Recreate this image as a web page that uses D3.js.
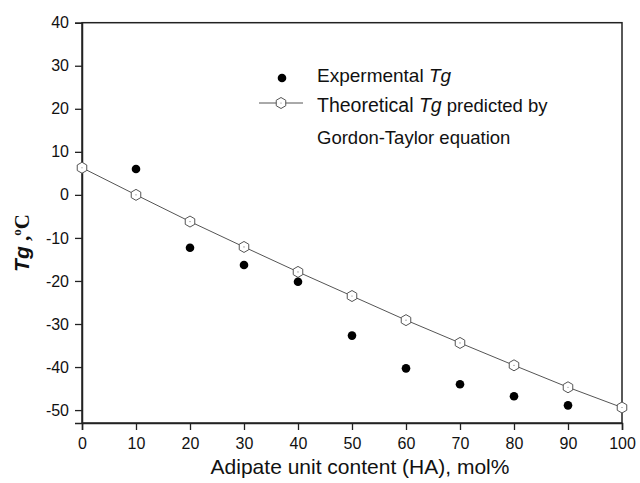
<!DOCTYPE html>
<html><head><meta charset="utf-8">
<script src="https://cdn.jsdelivr.net/npm/d3@7"></script>
<style>body{margin:0;background:#fff}svg{display:block}</style>
</head><body>
<script>
const haContent = [0,10,20,30,40,50,60,70,80,90,100];
const theoreticalTg = [6.3,0,-6.2,-12.1,-17.9,-23.5,-29.1,-34.4,-39.6,-44.7,-49.4];
const expContent = [10,20,30,40,50,60,70,80,90];
const experimentalTg = [6.0,-12.3,-16.3,-20.2,-32.7,-40.3,-44.0,-46.8,-48.9];
const xTicks = [0,10,20,30,40,50,60,70,80,90,100];
const yTicks = [-50,-40,-30,-20,-10,0,10,20,30,40];

const W=640,H=483;
const m={l:82,r:18,t:22.7,b:60};
const svg=d3.select("body").append("svg").attr("width",W).attr("height",H);
const x=d3.scaleLinear().domain([0,100]).range([m.l,W-m.r]);
const y=d3.scaleLinear().domain([-53,40]).range([H-m.b,m.t]);
const font="Liberation Sans, Arial, sans-serif";

// frame
svg.append("rect").attr("x",m.l).attr("y",m.t).attr("width",W-m.r-m.l).attr("height",H-m.b-m.t)
  .attr("fill","none").attr("stroke","#222").attr("stroke-width",1.5);

const xa=svg.append("g").attr("transform",`translate(0,${H-m.b})`)
  .call(d3.axisBottom(x).tickValues(xTicks).tickFormat(d=>String(d)).tickSize(7).tickPadding(8));
const ya=svg.append("g").attr("transform",`translate(${m.l},0)`)
  .call(d3.axisLeft(y).tickValues(yTicks).tickFormat(d=>String(d)).tickSize(7).tickPadding(6));
[xa,ya].forEach(a=>{
  a.select(".domain").attr("stroke","#222").attr("stroke-width",1.5);
  a.selectAll(".tick line").attr("stroke","#222").attr("stroke-width",1.3);
  a.selectAll("text").attr("font-family",font).attr("font-size",16).attr("fill","#111");
});

// theoretical line
svg.append("path").datum(haContent.map((d,i)=>[d,theoreticalTg[i]]))
  .attr("fill","none").attr("stroke","#555").attr("stroke-width",1)
  .attr("d",d3.line().x(d=>x(d[0])).y(d=>y(d[1])));

function hexPath(r){
  const pts=d3.range(6).map(i=>{const a=Math.PI/6+i*Math.PI/3;return [r*Math.cos(a),r*Math.sin(a)];});
  return "M"+pts.map(p=>p.join(",")).join("L")+"Z";
}
function hexMarker(g,cx,cy){
  g.append("path").attr("d",hexPath(5.5)).attr("transform",`translate(${cx},${cy})`)
    .attr("fill","#fff").attr("stroke","#555").attr("stroke-width",1);
  g.append("circle").attr("cx",cx).attr("cy",cy).attr("r",0.6).attr("fill","#777");
}
const hg=svg.append("g");
haContent.forEach((d,i)=>hexMarker(hg,x(d),y(theoreticalTg[i])));

svg.append("g").selectAll("circle").data(expContent).join("circle")
  .attr("cx",d=>x(d)).attr("cy",(d,i)=>y(experimentalTg[i])).attr("r",4.3).attr("fill","#000");

// legend
const lg=svg.append("g");
lg.append("circle").attr("cx",282).attr("cy",78).attr("r",4.3).attr("fill","#000");
const t1=lg.append("text").attr("x",317).attr("y",82).attr("font-family",font).attr("font-size",19).attr("fill","#111");
t1.append("tspan").text("Expermental ");
t1.append("tspan").attr("font-style","italic").text("Tg");
lg.append("line").attr("x1",259).attr("x2",303).attr("y1",103).attr("y2",103).attr("stroke","#555").attr("stroke-width",1);
hexMarker(lg,281,103);
const t2=lg.append("text").attr("x",317).attr("y",112).attr("font-family",font).attr("font-size",19.5).attr("fill","#111");
t2.append("tspan").text("Theoretical ");
t2.append("tspan").attr("font-style","italic").text("Tg");
t2.append("tspan").attr("font-size",18.5).text(" predicted by");
lg.append("text").attr("x",317).attr("y",144).attr("font-family",font).attr("font-size",18.5).attr("fill","#111")
  .text("Gordon-Taylor equation");

// axis titles
svg.append("text").attr("x",360).attr("y",474).attr("text-anchor","middle")
  .attr("font-family",font).attr("font-size",21).attr("fill","#111").text("Adipate unit content (HA), mol%");
const yt=svg.append("text").attr("transform",`translate(29,243) rotate(-90)`)
  .attr("text-anchor","middle").attr("font-family","Liberation Serif, Times New Roman, serif")
  .attr("font-size",21).attr("font-weight","bold").attr("fill","#111");
yt.append("tspan").attr("font-style","italic").attr("font-family",font).text("Tg");
yt.append("tspan").text(" ,");
yt.append("tspan").attr("font-size",13).attr("dy",-8).text("o");
yt.append("tspan").attr("dy",8).text("C");
</script>
</body></html>
